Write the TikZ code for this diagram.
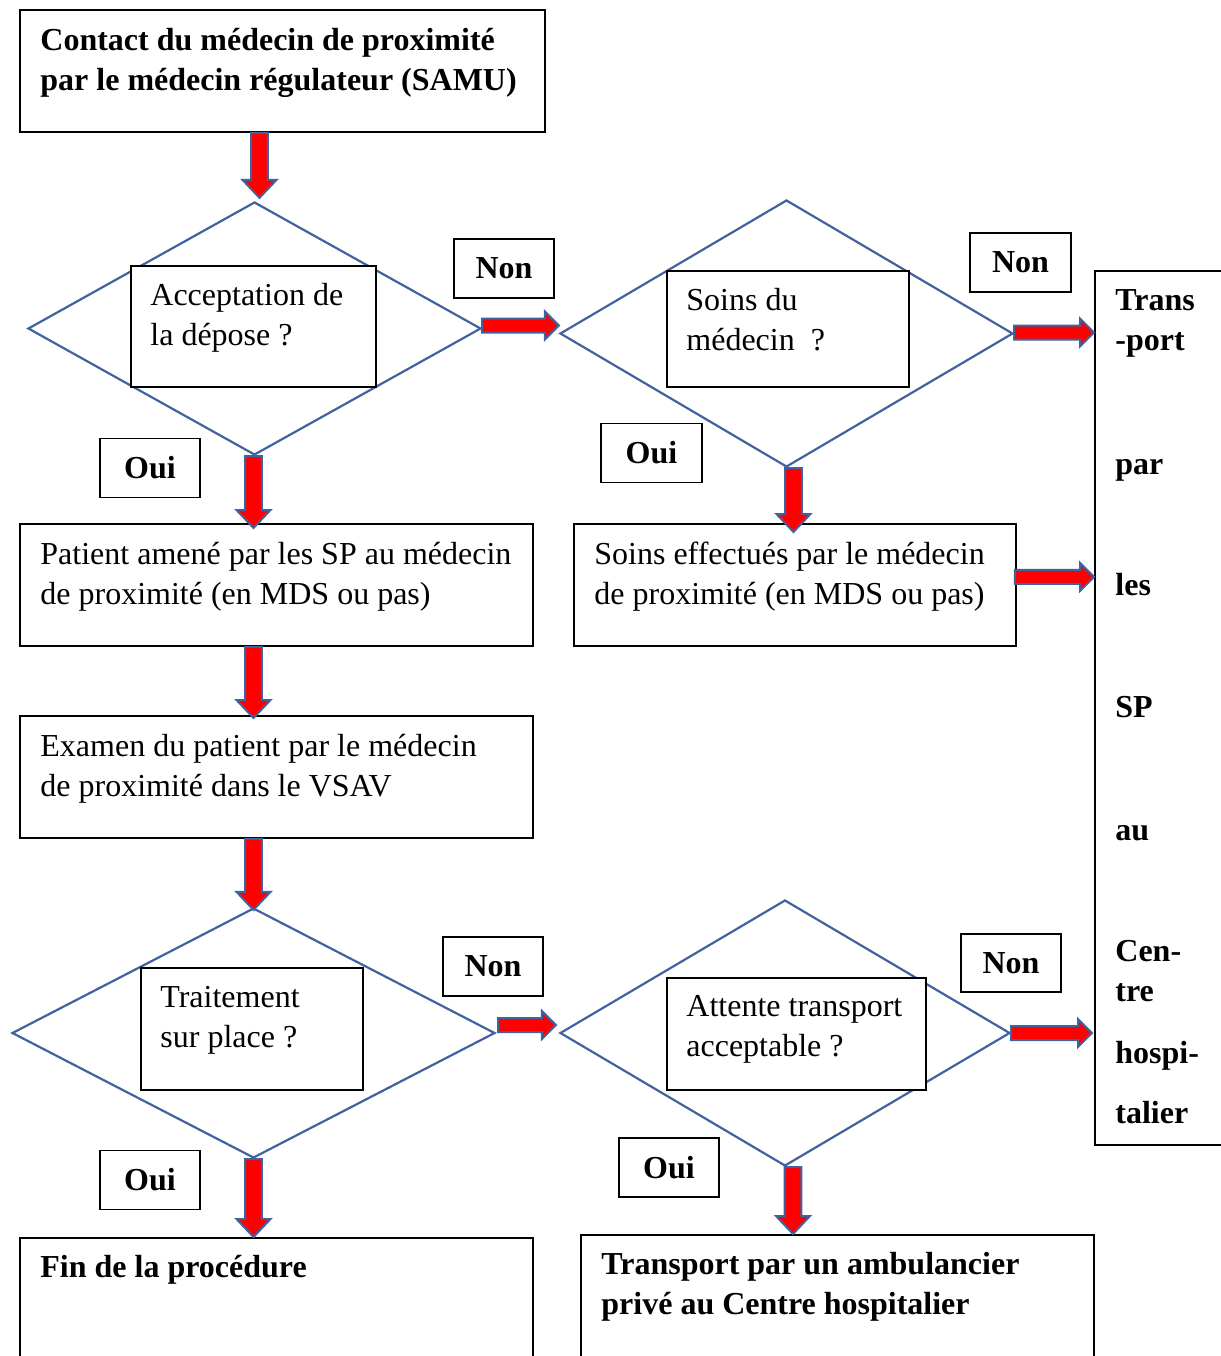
\documentclass[tikz,border=0pt]{standalone}
\usepackage{fontspec}
\setmainfont{Liberation Serif}
\usetikzlibrary{shapes.geometric,calc}
\definecolor{dblue}{RGB}{65,98,160}
\newcommand\ft{\fontsize{16}{20}\selectfont}
% block arrow: shaft half width, head half width, head length, from, to
\newcommand\blockarr[5]{%
  \coordinate (bh) at ($(#5)!#3!(#4)$);
  \filldraw[barrow] ($(#4)!#1!90:(#5)$) -- ($(bh)!#1!-90:(#4)$) -- ($(bh)!#2!-90:(#4)$)
    -- (#5) -- ($(bh)!#2!90:(#4)$) -- ($(bh)!#1!90:(#4)$) -- ($(#4)!#1!-90:(#5)$) -- cycle;}
\newcommand\varr[2]{\blockarr{4.2pt}{8.5pt}{9pt}{#1}{#2}}
\newcommand\harr[2]{\blockarr{3.5pt}{7pt}{7pt}{#1}{#2}}
\tikzset{
  box/.style={draw=black, line width=0.9pt, fill=white, inner sep=0pt, anchor=north west},
  dia/.style={diamond, draw=dblue, line width=1.1pt, inner sep=0pt},
  lbl/.style={box, anchor=center, font=\ft\bfseries, minimum width=50pt, minimum height=29.5pt},
  txt/.style={inner sep=0pt, align=left, anchor=base west, font=\ft},
  btxt/.style={txt, font=\ft\bfseries},
  barrow/.style={fill=red, draw=dblue, line width=1pt, line join=miter},
}
\begin{document}
\begin{tikzpicture}[x=0.5pt,y=-0.5pt]
\useasboundingbox (0,0) rectangle (1221,1356);
\clip (0,0) rectangle (1221,1356);
% top box
\node[box, minimum width=262.5pt, minimum height=61pt] (b1) at (19,9) {};
\node[btxt] (b1t) at ($(b1.north west)+(21,81)$) {Contact du médecin de proximité\\par le médecin régulateur (SAMU)};
% diamonds
\node[dia, minimum width=226.5pt, minimum height=126.5pt] (d1) at (254.5,328.5) {};
\node[dia, minimum width=226.5pt, minimum height=133.5pt] (d2) at (786.5,333.5) {};
\node[dia, minimum width=241.5pt, minimum height=125pt] (d3) at (253.5,1033) {};
\node[dia, minimum width=225pt, minimum height=133pt] (d4) at (785,1033) {};
% diamond text boxes
\node[box, minimum width=122.5pt, minimum height=60.5pt] (q1) at (130,265) {};
\node[txt] (q1t) at ($(q1.north west)+(20,80)$) {Acceptation de\\la dépose ?};
\node[box, minimum width=121pt, minimum height=58pt] (q2) at (666,270) {};
\node[txt] (q2t) at ($(q2.north west)+(20,80)$) {Soins du\\médecin~~?};
\node[box, minimum width=111pt, minimum height=61pt] (q3) at (140,967) {};
\node[txt] (q3t) at ($(q3.north west)+(20,80)$) {Traitement\\sur place ?};
\node[box, minimum width=129.5pt, minimum height=56pt] (q4) at (666,977) {};
\node[txt] (q4t) at ($(q4.north west)+(20,79)$) {Attente transport\\acceptable ?};
% action boxes
\node[box, minimum width=256.5pt, minimum height=61pt] (pat) at (19,523) {};
\node[txt] (patt) at ($(pat.north west)+(21,81)$) {Patient amené par les SP au médecin\\de proximité (en MDS ou pas)};
\node[box, minimum width=221pt, minimum height=61pt] (soi) at (573,523) {};
\node[txt] (soit) at ($(soi.north west)+(21,81)$) {Soins effectués par le médecin\\de proximité (en MDS ou pas)};
\node[box, minimum width=256.5pt, minimum height=61pt] (exa) at (19,715) {};
\node[txt] (exat) at ($(exa.north west)+(21,81)$) {Examen du patient par le médecin\\de proximité dans le VSAV};
\node[box, minimum width=256.5pt, minimum height=70pt] (fin) at (19,1237) {};
\node[btxt] (fint) at ($(fin.north west)+(21,40)$) {Fin de la procédure};
\node[box, minimum width=256.5pt, minimum height=70pt] (amb) at (580,1234) {};
\node[btxt] (ambt) at ($(amb.north west)+(21,80)$) {Transport par un ambulancier\\privé au Centre hospitalier};
% tall box
\node[box, minimum width=75pt, minimum height=437pt] (tal) at (1094,270) {};
\node[btxt] (talt) at ($(tal.north west)+(21,853)$) {Trans\\-port\\[42pt]par\\[40.5pt]les\\[41pt]SP\\[41.5pt]au\\[40.5pt]Cen-\\tre\\[11pt]hospi-\\[10pt]talier};
% labels
\node[lbl] (n1) at (504,268.5) {Non};
\node[lbl, minimum width=50.5pt] (n2) at (1020.5,262.5) {Non};
\node[lbl] (n3) at (493,966.5) {Non};
\node[lbl, minimum height=29pt] (n4) at (1011,963) {Non};
\node[lbl] (o1) at (150,468) {Oui};
\node[lbl, minimum width=50.5pt] (o2) at (651.5,453) {Oui};
\node[lbl] (o3) at (150,1180) {Oui};
\node[lbl] (o4) at (669,1167.5) {Oui};
% arrows
\coordinate (a1s) at ($(d1.north |- b1.south)+(5,0)$);
\coordinate (a1e) at ($(d1.north)+(5,-3)$);
\varr{a1s}{a1e}
\coordinate (a2s) at ($(d1.east)+(0,-3)$);
\coordinate (a2e) at (d2.west |- a2s);
\harr{a2s}{a2e}
\coordinate (a3s) at ($(d2.east)+(0,-1)$);
\coordinate (a3e) at (tal.west |- a3s);
\harr{a3s}{a3e}
\coordinate (a4e) at ($(d1.south |- pat.north)+(-1,5)$);
\coordinate (a4s) at (a4e |- d1.south);
\varr{a4s}{a4e}
\coordinate (a5e) at ($(d2.south |- soi.north)+(7,9)$);
\coordinate (a5s) at (a5e |- d2.south);
\varr{a5s}{a5e}
\coordinate (a6s) at ($(soi.east)+(-2,-8)$);
\coordinate (a6e) at (tal.west |- a6s);
\harr{a6s}{a6e}
\coordinate (a7s) at (a4e |- pat.south);
\coordinate (a7e) at ($(a4e |- exa.north)+(0,3)$);
\varr{a7s}{a7e}
\coordinate (a8s) at (d3.north |- exa.south);
\coordinate (a8e) at ($(d3.north)+(0,3)$);
\varr{a8s}{a8e}
\coordinate (a9s) at ($(d3.east)+(2,-8)$);
\coordinate (a9e) at ($(d4.west |- a9s)+(-3,0)$);
\harr{a9s}{a9e}
\coordinate (a10s) at (d4.east);
\coordinate (a10e) at ($(tal.west |- a10s)+(-2,0)$);
\harr{a10s}{a10e}
\coordinate (a11s) at (d3.south);
\coordinate (a11e) at ($(d3.south |- fin.north)$);
\varr{a11s}{a11e}
\coordinate (a12s) at ($(d4.south)+(8,0)$);
\coordinate (a12e) at ($(a12s |- amb.north)$);
\varr{a12s}{a12e}
\end{tikzpicture}
\end{document}
